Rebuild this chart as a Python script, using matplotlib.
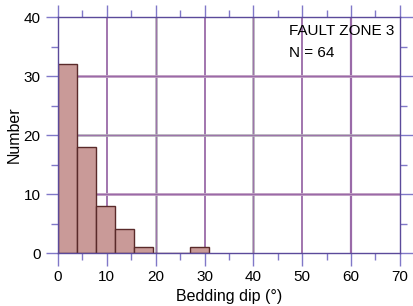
import numpy as np
import matplotlib
matplotlib.use("Agg")
import matplotlib.pyplot as plt
from matplotlib.ticker import MultipleLocator

# Histogram bins (8 bins from 0 to 31) and counts
bin_edges = np.linspace(0, 31, 9)
counts = [32, 18, 8, 4, 1, 0, 0, 1]
titulo = "FAULT ZONE 3"
n_label = "N = 64"

plt.rcParams['font.family'] = ['Liberation Sans', 'DejaVu Sans']
plt.rcParams['font.size'] = 11

fig = plt.figure(figsize=(4.14, 3.06), dpi=100)
ax = fig.add_axes([0.140, 0.173, 0.826, 0.771])

ax.set_xlim(0, 70)
ax.set_ylim(0, 40)

# grade: linhas cinza (20, 40) e roxas (demais)
gray_x, gray_y = [20, 40], [20]
for xv in range(10, 70, 10):
    if xv in gray_x:
        ax.axvline(xv, color='#b0aab6', lw=1.9, zorder=0)
        ax.axvline(xv, color='#9a6aa8', lw=0.6, zorder=0)
    else:
        ax.axvline(xv, color='#9a6aa8', lw=1.6 if xv == 60 else 1.3, zorder=0)
for yv in range(10, 40, 10):
    if yv in gray_y:
        ax.axhline(yv, color='#b0aab6', lw=1.9, zorder=0)
        ax.axhline(yv, color='#9a6aa8', lw=0.6, zorder=0)
    else:
        ax.axhline(yv, color='#c8a8c8', lw=2.0, zorder=0)
        ax.axhline(yv, color='#9a6aa8', lw=1.0, zorder=0)

widths = np.diff(bin_edges)
ax.bar(bin_edges[:-1], counts, width=widths, align='edge',
       color='#c99a98', edgecolor='#5a2a2a', linewidth=1.0, zorder=2)

for s in ax.spines.values():
    s.set_color('#5b4a9a')
    s.set_linewidth(1.0)

ax.xaxis.set_major_locator(MultipleLocator(10))
ax.xaxis.set_minor_locator(MultipleLocator(5))
ax.yaxis.set_major_locator(MultipleLocator(10))
ax.yaxis.set_minor_locator(MultipleLocator(5))
ax.tick_params(which='both', direction='out', top=True, right=True,
               color='#8078c8', width=1.0, labelsize=11)
ax.tick_params(which='major', length=9)
ax.tick_params(which='minor', length=5)

ax.set_xlabel("Bedding dip (°)", fontsize=11.5, labelpad=3)
ax.set_ylabel("Number", fontsize=11.5, labelpad=1)

ax.text(47.2, 37.6, titulo, fontsize=11, va='center', ha='left')
ax.text(47.2, 33.9, n_label, fontsize=11, va='center', ha='left')

fig.savefig("out.png", dpi=100)
